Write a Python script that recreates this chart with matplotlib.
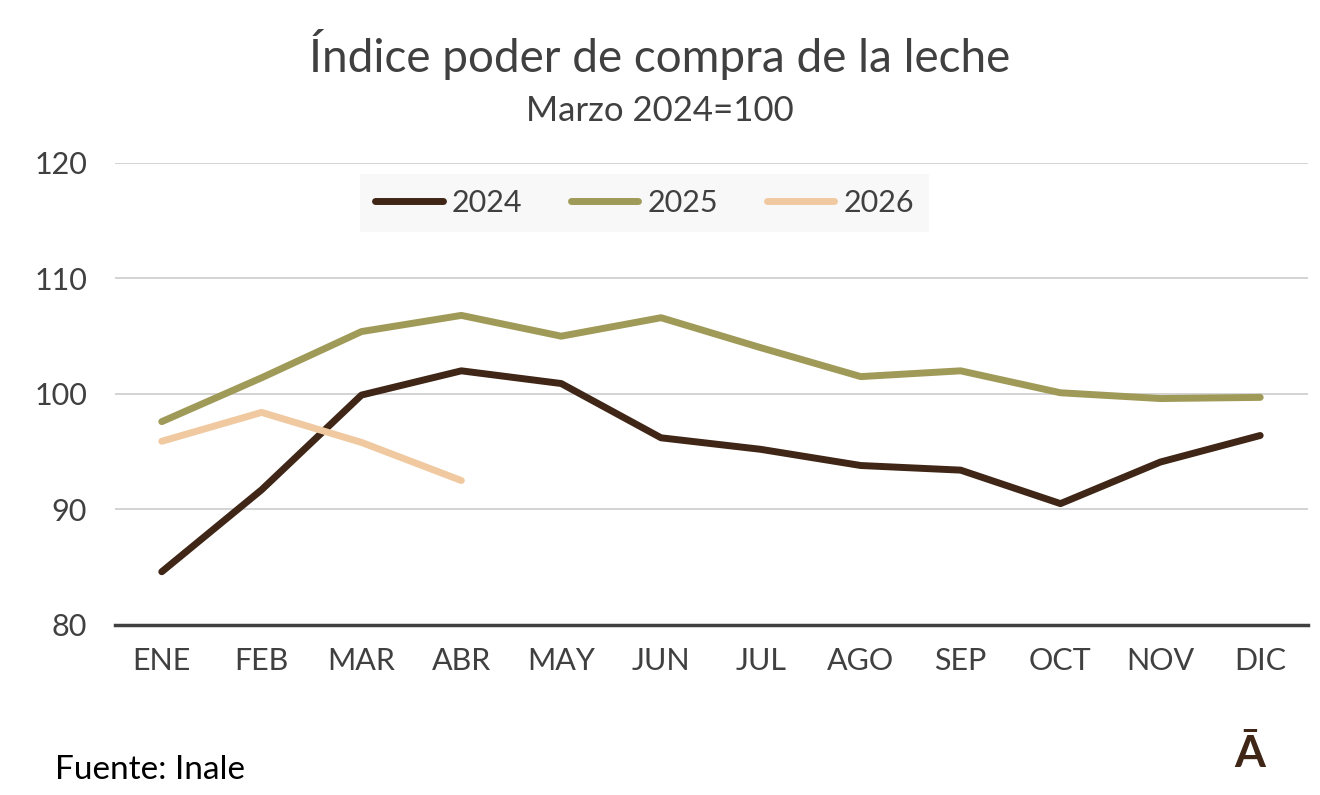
import matplotlib.pyplot as plt

months = ["ENE", "FEB", "MAR", "ABR", "MAY", "JUN", "JUL", "AGO", "SEP", "OCT", "NOV", "DIC"]
y2024 = [84.6, 91.7, 99.9, 102.0, 100.9, 96.2, 95.2, 93.8, 93.4, 90.5, 94.1, 96.4]
y2025 = [97.6, 101.4, 105.4, 106.8, 105.0, 106.6, 104.0, 101.5, 102.0, 100.1, 99.6, 99.7]
y2026 = [95.9, 98.4, 95.8, 92.5]

plt.rcParams["font.family"] = ["Lato", "DejaVu Sans"]
fig = plt.figure(figsize=(13.2, 7.95), dpi=100)
ax = fig.add_axes([0.087, 0.214, 0.904, 0.581])

x = list(range(len(months)))
ax.plot(x, y2024, color="#3f2616", lw=5, label="2024", solid_capstyle="round")
ax.plot(x, y2025, color="#a09a58", lw=5, label="2025", solid_capstyle="round")
ax.plot(x[:len(y2026)], y2026, color="#f0c9a0", lw=5, label="2026", solid_capstyle="round")

ax.set_xlim(-0.47, 11.48)
ax.set_ylim(80, 120)
ax.set_yticks([80, 90, 100, 110, 120])
ax.set_xticks(x)
ax.set_xticklabels(months)
ax.grid(axis="y", color="#d0d0d0", lw=1.3)
ax.set_axisbelow(True)
for s in ["top", "right", "left"]:
    ax.spines[s].set_visible(False)
ax.spines["bottom"].set_color("#404040")
ax.spines["bottom"].set_linewidth(2.5)
ax.tick_params(length=0, labelsize=22, labelcolor="#404040", pad=16)
ax.tick_params(axis="y", pad=20)

leg = ax.legend(loc="upper center", bbox_to_anchor=(0.444, 1.01), ncol=3, fontsize=22,
                frameon=True, fancybox=False, handlelength=2.2, handletextpad=0.3,
                columnspacing=1.6, borderpad=0.5)
leg.get_frame().set_facecolor("#f7f7f7")
leg.get_frame().set_edgecolor("none")
for t in leg.get_texts():
    t.set_color("#404040")

fig.text(0.5, 0.91, "Índice poder de compra de la leche", ha="center", fontsize=33, color="#404040")
fig.text(0.5, 0.848, "Marzo 2024=100", ha="center", fontsize=25, color="#404040")
fig.text(0.042, 0.02, "Fuente: Inale", fontsize=24, color="black")
fig.text(0.947, 0.035, "Ā", fontsize=32, fontweight="bold", color="#3f2616", ha="center")

fig.savefig("out.png")
